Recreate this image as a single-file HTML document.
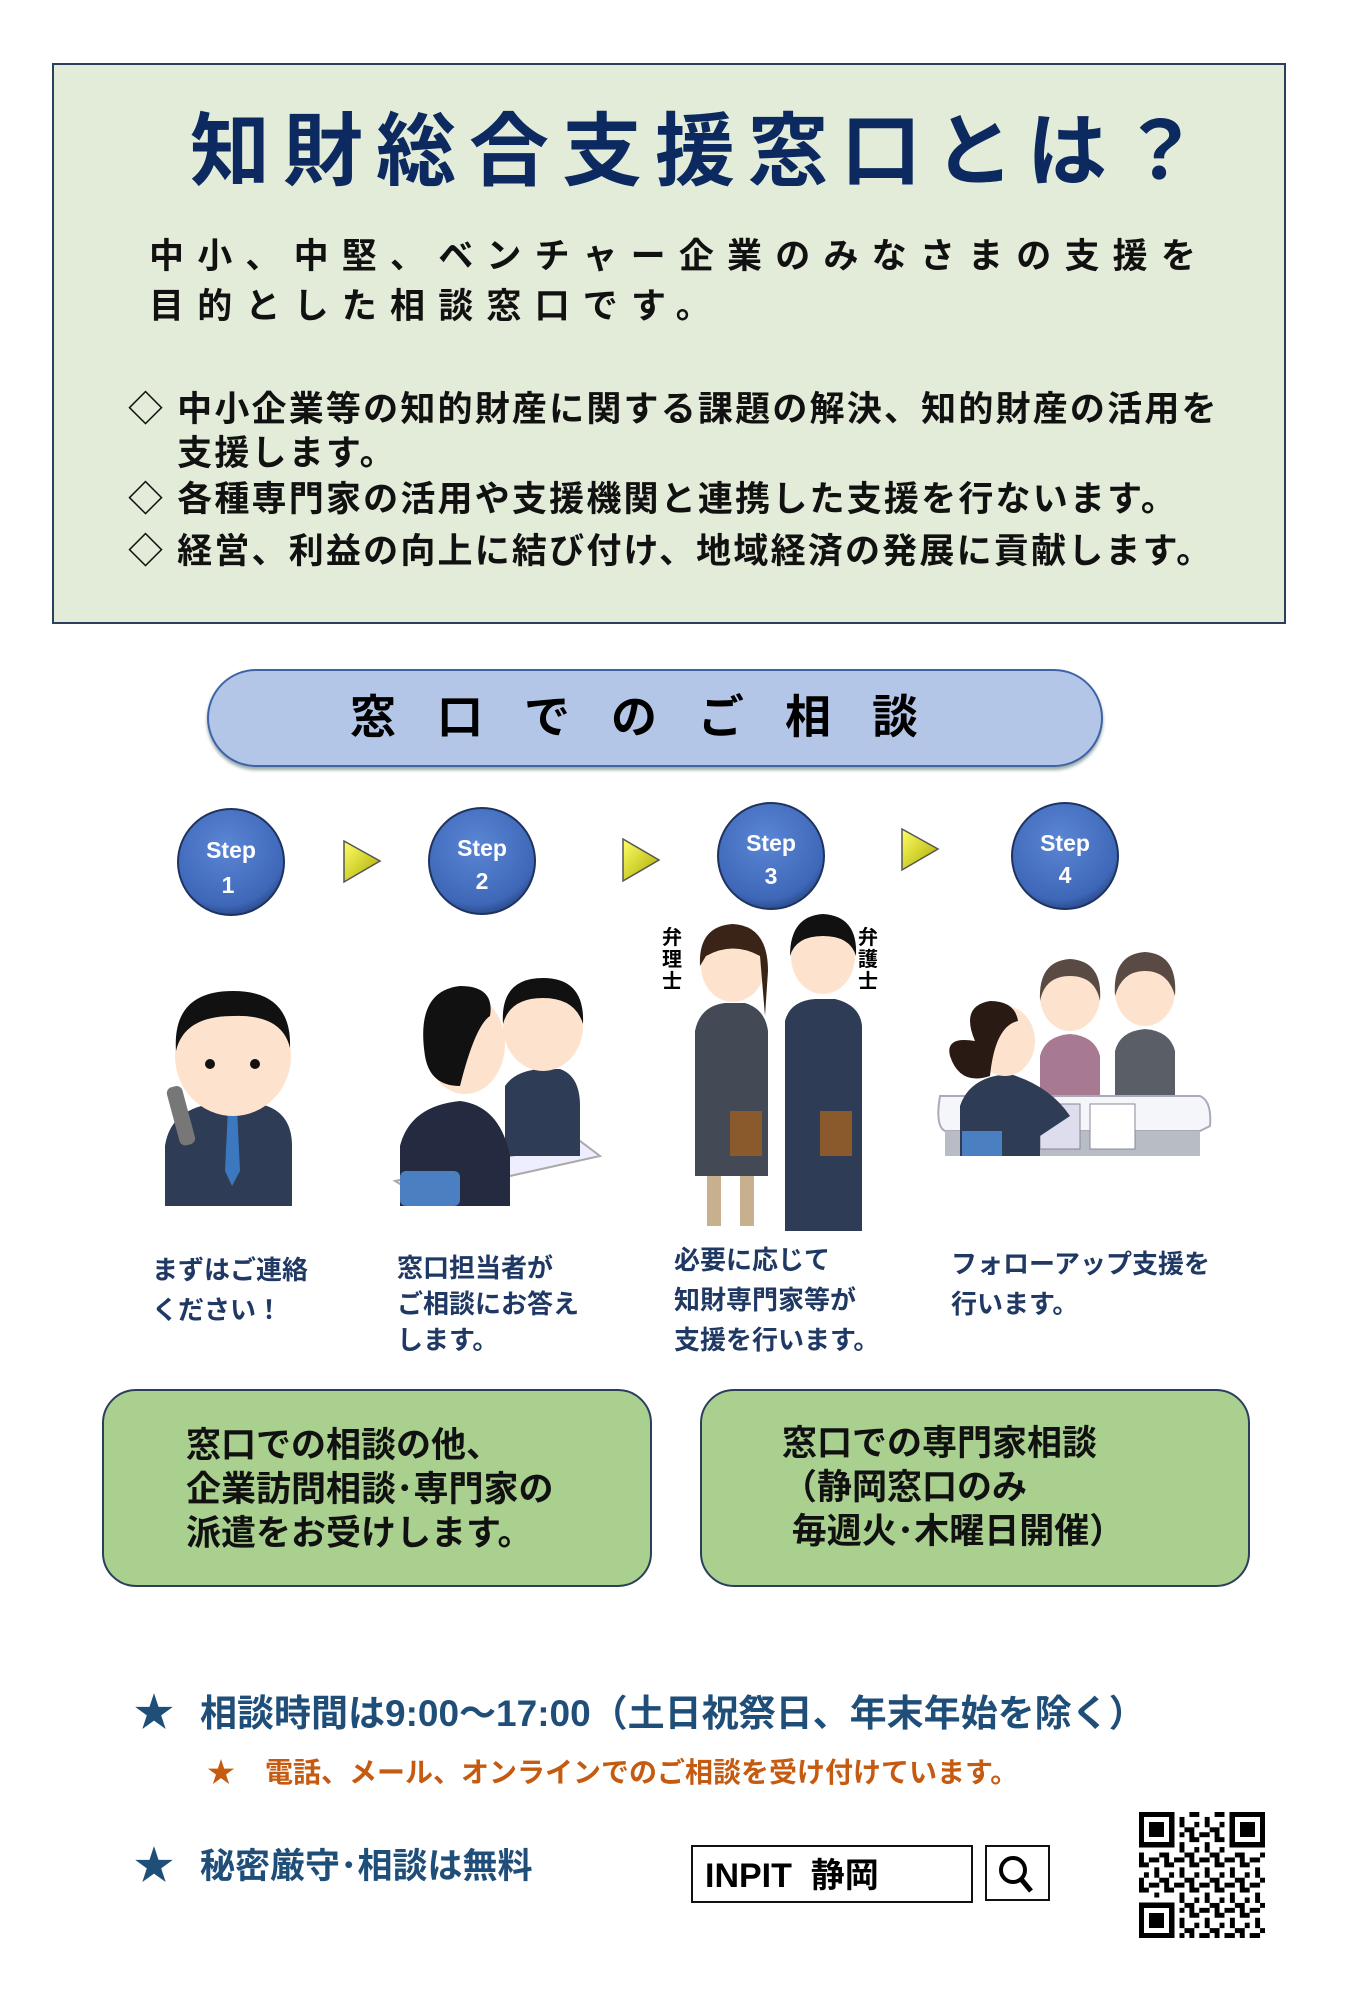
<!DOCTYPE html>
<html><head><meta charset="utf-8">
<style>
*{margin:0;padding:0;box-sizing:border-box}
body{width:1359px;height:2000px;background:#fff;position:relative;overflow:hidden;font-family:"Liberation Sans","Noto Sans CJK JP",sans-serif;font-weight:bold}
.a{position:absolute;white-space:nowrap}
</style></head><body>
<div class="a" style="left:52px;top:63px;width:1234px;height:561px;background:#e2ecd9;border:2px solid #2b3f5c"></div>
<div class="a" style="left:190px;top:112px;font-size:80px;letter-spacing:13px;color:#0d2a60;line-height:1">知財総合支援窓口とは？</div>
<div class="a" style="left:149px;top:232px;font-size:35px;letter-spacing:13.2px;color:#111;line-height:50px">中小、中堅、ベンチャー企業のみなさまの支援を<br>目的とした相談窓口です。</div>
<div class="a" style="left:128px;top:388px;font-size:35px;letter-spacing:2.2px;color:#111;line-height:44px">◇ 中小企業等の知的財産に関する課題の解決、知的財産の活用を<br>　 支援します。</div>
<div class="a" style="left:128px;top:478px;font-size:35px;letter-spacing:2.2px;color:#111;line-height:44px">◇ 各種専門家の活用や支援機関と連携した支援を行ないます。</div>
<div class="a" style="left:128px;top:530px;font-size:35px;letter-spacing:2.2px;color:#111;line-height:44px">◇ 経営、利益の向上に結び付け、地域経済の発展に貢献します。</div>

<div class="a" style="left:207px;top:669px;width:896px;height:98px;border-radius:49px;background:#b4c6e7;border:2px solid #3f63a8;box-shadow:0 3px 3px #9aa"></div>
<div class="a" style="left:350px;top:692px;font-size:46px;letter-spacing:41px;color:#000;line-height:50px">窓口でのご相談</div>

<svg class="a" style="left:0;top:796px" width="1359" height="440">
<defs><radialGradient id="g" cx="0.45" cy="0.35" r="0.7"><stop offset="0" stop-color="#5b86d4"/><stop offset="0.8" stop-color="#3e67b8"/><stop offset="1" stop-color="#233e78"/></radialGradient>
<linearGradient id="y" x1="0" y1="0" x2="1" y2="1"><stop offset="0" stop-color="#ffff66"/><stop offset="1" stop-color="#a8a800"/></linearGradient></defs>
<g font-family="Liberation Sans,sans-serif" font-size="23" fill="#fff" text-anchor="middle" font-weight="bold">
<circle cx="231" cy="66" r="53" fill="url(#g)" stroke="#1f3360" stroke-width="2"/><text x="231" y="62">Step</text><text x="228" y="97">1</text>
<circle cx="482" cy="65" r="53" fill="url(#g)" stroke="#1f3360" stroke-width="2"/><text x="482" y="60">Step</text><text x="482" y="93">2</text>
<circle cx="771" cy="60" r="53" fill="url(#g)" stroke="#1f3360" stroke-width="2"/><text x="771" y="55">Step</text><text x="771" y="88">3</text>
<circle cx="1065" cy="60" r="53" fill="url(#g)" stroke="#1f3360" stroke-width="2"/><text x="1065" y="55">Step</text><text x="1065" y="87">4</text>
</g>
<polygon points="344,45 380,65 344,86" fill="url(#y)" stroke="#555" stroke-width="1.5"/>
<polygon points="623,43 659,64 623,85" fill="url(#y)" stroke="#555" stroke-width="1.5"/>
<polygon points="902,33 938,53 902,74" fill="url(#y)" stroke="#555" stroke-width="1.5"/>
<!-- person 1 -->
<path d="M165,410 L165,350 Q170,315 210,308 L260,308 Q292,315 292,350 L292,410Z" fill="#2e3c55"/>
<path d="M228,312 L237,312 L240,375 L232,390 L225,375Z" fill="#3b78c0"/>
<ellipse cx="233" cy="260" rx="58" ry="60" fill="#fde3cd"/>
<path d="M176,255 Q172,195 233,195 Q292,195 290,252 Q282,218 233,220 Q184,220 176,255Z" fill="#111"/>
<rect x="173" y="290" width="16" height="60" rx="6" fill="#777" transform="rotate(-15 180 320)"/>
<circle cx="210" cy="268" r="5" fill="#111"/><circle cx="255" cy="268" r="5" fill="#111"/>
<!-- person 2 -->
<polygon points="395,385 580,345 600,360 420,400" fill="#eef" stroke="#aaa" stroke-width="2"/>
<path d="M505,360 L505,290 Q515,275 540,273 L560,273 Q580,280 580,310 L580,360Z" fill="#2e3c55"/>
<ellipse cx="543" cy="230" rx="40" ry="45" fill="#fde3cd"/>
<path d="M503,228 Q500,182 543,182 Q585,182 583,228 Q575,202 543,202 Q510,202 503,228Z" fill="#111"/>
<path d="M400,410 L400,350 Q410,310 460,305 Q500,310 510,360 L510,410Z" fill="#242a40"/>
<ellipse cx="465" cy="248" rx="40" ry="50" fill="#fde3cd"/>
<path d="M425,260 Q415,195 460,190 Q495,190 490,220 Q475,230 460,290 Q430,290 425,260Z" fill="#111"/>
<rect x="400" y="375" width="60" height="35" rx="6" fill="#4a7fc1"/>
<!-- person 3 -->
<path d="M695,380 L695,235 Q700,210 725,207 L745,207 Q765,213 768,235 L768,380Z" fill="#444a55"/>
<rect x="707" y="380" width="14" height="50" fill="#c8b08e"/><rect x="740" y="380" width="14" height="50" fill="#c8b08e"/>
<ellipse cx="733" cy="170" rx="32" ry="36" fill="#fde3cd"/>
<path d="M700,170 Q698,130 733,128 Q768,130 768,175 L765,220 L760,160 Q733,145 706,160Z" fill="#3a2418"/>
<rect x="730" y="315" width="32" height="45" fill="#8a5a2c"/>
<path d="M785,435 L785,225 Q790,205 815,203 L835,203 Q860,209 862,230 L862,435Z" fill="#2e3c55"/>
<ellipse cx="823" cy="160" rx="32" ry="38" fill="#fde3cd"/>
<path d="M790,160 Q790,120 823,118 Q858,120 856,160 Q850,140 823,140 Q796,140 790,160Z" fill="#111"/>
<rect x="820" y="315" width="32" height="45" fill="#8a5a2c"/>
<g font-size="20" fill="#000" font-family="Noto Sans CJK JP,sans-serif" font-weight="bold" text-anchor="middle">
<text x="672" y="148">弁</text><text x="672" y="170">理</text><text x="672" y="192">士</text>
<text x="868" y="148">弁</text><text x="868" y="170">護</text><text x="868" y="192">士</text></g>
<!-- person 4 -->
<path d="M1040,310 L1040,260 Q1045,240 1070,238 Q1095,240 1100,260 L1100,310Z" fill="#a77a92"/>
<ellipse cx="1070" cy="200" rx="30" ry="35" fill="#fde3cd"/>
<path d="M1040,205 Q1038,165 1070,163 Q1103,165 1100,205 Q1095,180 1070,180 Q1045,180 1040,205Z" fill="#5a4a44"/>
<path d="M1115,310 L1115,255 Q1120,235 1145,233 Q1170,235 1175,255 L1175,310Z" fill="#5a5e66"/>
<ellipse cx="1145" cy="195" rx="30" ry="35" fill="#fde3cd"/>
<path d="M1115,200 Q1112,158 1145,156 Q1178,158 1175,200 Q1168,175 1145,175 Q1122,175 1115,200Z" fill="#5a4a44"/>
<path d="M940,300 L1200,300 Q1212,305 1210,330 L1200,335 L945,335 Q935,330 940,300Z" fill="#f4f6fa" stroke="#aab" stroke-width="2"/>
<rect x="945" y="335" width="255" height="25" fill="#b8bcc4"/>
<rect x="1040" y="308" width="40" height="45" fill="#dde" stroke="#889"/><rect x="1090" y="308" width="45" height="45" fill="#fff" stroke="#889"/>
<path d="M960,360 L960,310 Q970,280 1010,278 Q1050,290 1070,320 L1040,340 L1040,360Z" fill="#2e3c55"/>
<ellipse cx="1005" cy="245" rx="30" ry="35" fill="#fde3cd"/>
<path d="M975,245 Q960,210 990,205 Q1015,205 1018,225 Q995,230 990,280 Q960,290 950,260 Q945,240 975,245Z" fill="#2a1a14"/>
<rect x="962" y="335" width="40" height="25" fill="#4a7fc1"/>
</svg>

<div class="a" style="left:152px;top:1250px;font-size:26px;color:#1f3864;line-height:40px">まずはご連絡<br>ください！</div>
<div class="a" style="left:397px;top:1250px;font-size:26px;color:#1f3864;line-height:36px">窓口担当者が<br>ご相談にお答え<br>します。</div>
<div class="a" style="left:674px;top:1240px;font-size:26px;color:#1f3864;line-height:40px">必要に応じて<br>知財専門家等が<br>支援を行います。</div>
<div class="a" style="left:951px;top:1244px;font-size:26px;color:#1f3864;line-height:40px">フォローアップ支援を<br>行います。</div>

<div class="a" style="left:102px;top:1389px;width:550px;height:198px;border-radius:34px;background:#a9d08e;border:2px solid #2b3f5c"></div>
<div class="a" style="left:700px;top:1389px;width:550px;height:198px;border-radius:34px;background:#a9d08e;border:2px solid #2b3f5c"></div>
<div class="a" style="left:186px;top:1424px;font-size:35px;color:#111;line-height:44px">窓口での相談の他、<br>企業訪問相談･専門家の<br>派遣をお受けします。</div>
<div class="a" style="left:782px;top:1422px;font-size:35px;color:#111;line-height:44px">窓口での専門家相談<br>（静岡窓口のみ<br>&nbsp;毎週火･木曜日開催）</div>

<div class="a" style="left:134px;top:1690px;font-size:40px;color:#1f4e79;line-height:46px">★</div>
<div class="a" style="left:200px;top:1692px;font-size:37px;color:#1f4e79;line-height:44px">相談時間は9:00～17:00（土日祝祭日、年末年始を除く）</div>
<div class="a" style="left:207px;top:1756px;font-size:28px;color:#c55a11;line-height:34px">★</div>
<div class="a" style="left:265px;top:1756px;font-size:28px;color:#c55a11;line-height:34px">電話、メール、オンラインでのご相談を受け付けています。</div>
<div class="a" style="left:134px;top:1843px;font-size:40px;color:#1f4e79;line-height:46px">★</div>
<div class="a" style="left:200px;top:1845px;font-size:35px;color:#1f4e79;line-height:44px">秘密厳守･相談は無料</div>

<div class="a" style="left:691px;top:1845px;width:282px;height:58px;border:2px solid #111;background:#fff"></div>
<div class="a" style="left:705px;top:1856px;font-size:34px;color:#000;line-height:40px">INPIT&nbsp; 静岡</div>
<div class="a" style="left:985px;top:1845px;width:65px;height:56px;border:2px solid #111;background:#fff"></div>
<svg class="a" style="left:985px;top:1845px" width="65" height="56"><circle cx="28" cy="25" r="12" fill="none" stroke="#000" stroke-width="4"/><line x1="36" y1="34" x2="46" y2="46" stroke="#000" stroke-width="5"/></svg>

<svg class="a" style="left:1138px;top:1812px" width="128" height="126" viewBox="0 0 25 25" shape-rendering="crispEdges">
<defs><pattern id="q" width="5" height="5" patternUnits="userSpaceOnUse"><rect x="0" y="0" width="2" height="1"/><rect x="3" y="1" width="1" height="2"/><rect x="1" y="2" width="1" height="1"/><rect x="0" y="3" width="1" height="2"/><rect x="2" y="4" width="2" height="1"/><rect x="4" y="3" width="1" height="1"/></pattern></defs>
<rect width="25" height="25" fill="url(#q)"/>
<g><rect x="0" y="0" width="8" height="8" fill="#fff"/><rect x="0.5" y="0.5" width="6" height="6" fill="none" stroke="#000"/><rect x="2" y="2" width="3" height="3"/>
<rect x="17" y="0" width="8" height="8" fill="#fff"/><rect x="18.5" y="0.5" width="6" height="6" fill="none" stroke="#000"/><rect x="20" y="2" width="3" height="3"/>
<rect x="0" y="17" width="8" height="8" fill="#fff"/><rect x="0.5" y="18.5" width="6" height="6" fill="none" stroke="#000"/><rect x="2" y="20" width="3" height="3"/></g>
</svg>
</body></html>
